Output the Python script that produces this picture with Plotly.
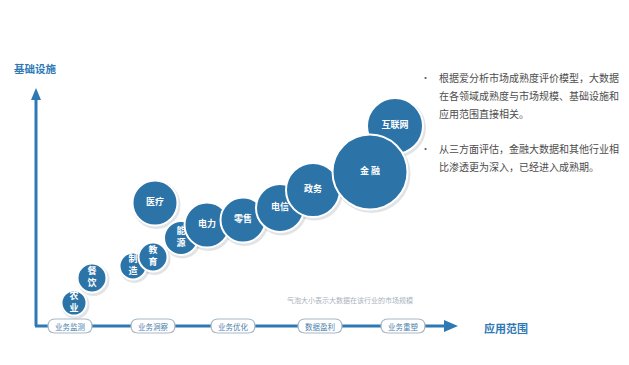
import plotly.graph_objects as go

# Industry bubbles: application range (x), infrastructure (y), market size (bubble diameter)
industries = ["农业", "餐饮", "制造", "教育", "能源", "医疗", "电力", "零售", "电信", "政务", "互联网", "金融"]
labels = ["农<br>业", "餐<br>饮", "制<br>造", "教<br>育", "能<br>源", "医疗", "电力", "零售", "电信", "政务", "互联网", "金 融"]
app_range = [74, 92, 133, 153, 181, 155, 207, 243, 280, 313, 395, 370]
infrastructure = [62, 87, 99, 108, 127, 162, 140, 145, 157, 175, 239, 193]
market_size = [25, 29, 27, 29, 34, 45, 45, 45, 48, 54, 56, 75]

stages = ["业务监测", "业务洞察", "业务优化", "数据盈利", "业务重塑"]
stage_pos = [70, 153, 233, 320, 403]

notes = [
    ["根据爱分析市场成熟度评价模型，大数据", "在各领域成熟度与市场规模、基础设施和", "应用范围直接相关。"],
    ["从三方面评估，金融大数据和其他行业相", "比渗透更为深入，已经进入成熟期。"],
]

W, H = 629, 365
BLUE = "#2c73a8"
AXIS = "#2e78b4"
FONT = "Noto Sans CJK SC"

fig = go.Figure()

# soft shadow under bubbles
fig.add_trace(go.Scatter(
    x=[v + 1.5 for v in app_range], y=[v - 2 for v in infrastructure],
    mode="markers", hoverinfo="skip",
    marker=dict(size=[s + 3 for s in market_size], sizemode="diameter", color="rgba(60,70,90,0.22)",
                line=dict(width=0)),
))
fig.add_trace(go.Scatter(
    x=app_range, y=infrastructure, mode="markers+text", text=labels,
    textfont=dict(family=FONT, size=9, color="white", weight="bold"),
    textposition="middle center", hovertext=industries,
    marker=dict(size=market_size, sizemode="diameter", color=BLUE, opacity=1,
                line=dict(width=2, color="white")),
))

shapes = []
# vertical axis + arrowhead
shapes.append(dict(type="line", x0=36, x1=36, y0=H - 326, y1=H - 100, line=dict(color=AXIS, width=3)))
shapes.append(dict(type="path", path=f"M 31,{H-100} L 41,{H-100} L 36,{H-88} Z",
                   fillcolor=AXIS, line=dict(width=0)))
# horizontal axis + arrowhead
shapes.append(dict(type="line", x0=35, x1=446, y0=H - 326, y1=H - 326, line=dict(color=AXIS, width=3)))
shapes.append(dict(type="path", path=f"M 444,{H-320} L 444,{H-332} L 458,{H-326} Z",
                   fillcolor=AXIS, line=dict(width=0)))

# rounded stage pills on the horizontal axis
pw, ph, r = 22, 7, 7
for cx in stage_pos:
    yc = H - 326
    x0, x1, y0, y1 = cx - pw, cx + pw, yc - ph, yc + ph
    path = (f"M {x0+r},{y0} L {x1-r},{y0} Q {x1},{y0} {x1},{y0+r} L {x1},{y1-r} "
            f"Q {x1},{y1} {x1-r},{y1} L {x0+r},{y1} Q {x0},{y1} {x0},{y1-r} "
            f"L {x0},{y0+r} Q {x0},{y0} {x0+r},{y0} Z")
    shapes.append(dict(type="path", path=path, fillcolor="white", line=dict(color="#a9b8c6", width=1.2)))

annotations = []
for name, cx in zip(stages, stage_pos):
    annotations.append(dict(x=cx, y=H - 326, text=name, showarrow=False,
                            font=dict(family=FONT, size=7.5, color="#4a7fae")))

annotations.append(dict(x=12, y=H - 68, text="基础设施", showarrow=False, xanchor="left",
                        font=dict(family=FONT, size=10.5, color=AXIS, weight="bold")))
annotations.append(dict(x=482, y=H - 328, text="应用范围", showarrow=False, xanchor="left",
                        font=dict(family=FONT, size=11, color=AXIS, weight="bold")))
annotations.append(dict(x=350, y=H - 300, text="气泡大小表示大数据在该行业的市场规模", showarrow=False,
                        font=dict(family=FONT, size=7, color="#a8b3bd")))

line_y = [[77, 95, 113], [148, 166]]
for block, ys in zip(notes, line_y):
    annotations.append(dict(x=425, y=H - ys[0], text="•", showarrow=False,
                            font=dict(family=FONT, size=9, color="#555555")))
    for txt, yy in zip(block, ys):
        annotations.append(dict(x=437, y=H - yy, text=txt, showarrow=False, xanchor="left",
                                font=dict(family=FONT, size=10, color="#4d4d4d")))

fig.update_layout(
    width=W, height=H, margin=dict(l=0, r=0, t=0, b=0),
    paper_bgcolor="white", plot_bgcolor="white", showlegend=False,
    xaxis=dict(range=[0, W], visible=False, fixedrange=True),
    yaxis=dict(range=[0, H], visible=False, fixedrange=True),
    shapes=shapes, annotations=annotations,
)

fig.write_html("out.html")
